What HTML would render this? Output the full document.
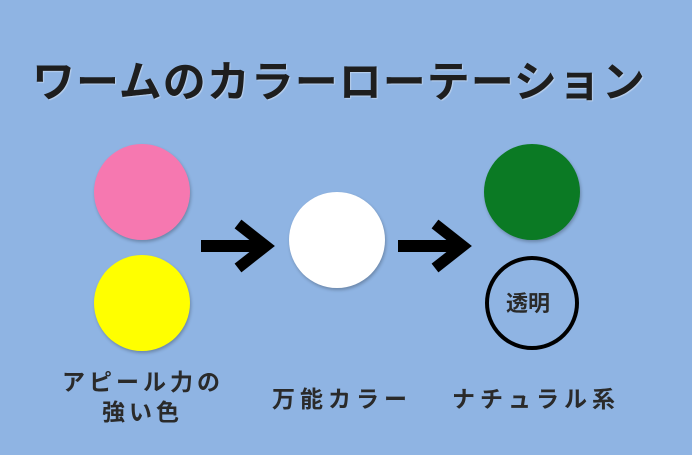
<!DOCTYPE html>
<html><head><meta charset="utf-8"><style>
body{margin:0;width:692px;height:455px;background:#8fb4e3;overflow:hidden;position:relative;font-family:"Liberation Sans","Noto Sans CJK JP",sans-serif;color:#2a2a2a}
.t{position:absolute;white-space:nowrap;font-weight:bold}
.c{position:absolute;border-radius:50%;box-shadow:1px 2px 3px rgba(0,0,0,.25)}
</style></head><body>
<div class="t" style="left:32px;top:48px;font-size:43px;letter-spacing:1px;color:#1e1e1e;text-shadow:1px 1px 1px rgba(255,255,255,.4)">ワームのカラーローテーション</div>
<div class="c" style="left:94px;top:144px;width:96px;height:96px;background:#f678b0"></div>
<div class="c" style="left:94px;top:255px;width:96px;height:96px;background:#ffff00"></div>
<div class="c" style="left:289px;top:192px;width:96px;height:96px;background:#fff"></div>
<div class="c" style="left:484px;top:144px;width:96px;height:96px;background:#0b7a24"></div>
<div style="position:absolute;left:485px;top:256px;width:86px;height:86px;border:4px solid #000;border-radius:50%"></div>
<div class="t" style="left:506px;top:286px;font-size:22px">透明</div>
<svg style="position:absolute;left:0;top:0" width="692" height="455">
<g stroke="#000" fill="none" stroke-width="12">
<line x1="201" y1="246" x2="266" y2="246"/><polyline points="238,224 266,246 238,268" stroke-width="11"/>
<line x1="398" y1="246" x2="463" y2="246"/><polyline points="435,224 463,246 435,268" stroke-width="11"/>
</g></svg>
<div class="t" style="left:62px;top:363px;font-size:23px;letter-spacing:4px">アピール力の</div>
<div class="t" style="left:102px;top:393px;font-size:23px;letter-spacing:4px">強い色</div>
<div class="t" style="left:272px;top:380px;font-size:23px;letter-spacing:5px">万能カラー</div>
<div class="t" style="left:452px;top:380px;font-size:23px;letter-spacing:5px">ナチュラル系</div>
</body></html>
